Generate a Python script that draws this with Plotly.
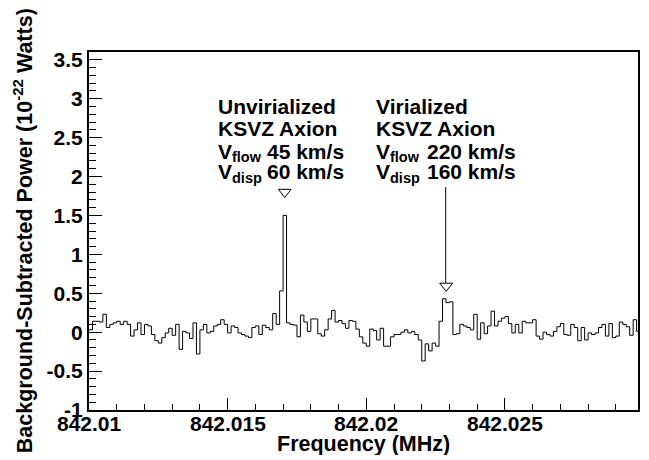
import numpy as np
import plotly.graph_objects as go

# ---------------- data ----------------
f_start = 842.01          # MHz, lower edge of first bin
bin_width = 0.000125      # MHz (125 Hz bins)

power = [
    0.03, 0.14, 0.14, 0.13, 0.23, 0.06, 0.10, 0.12, 0.14, 0.10,
    0.14, 0.10, -0.05, 0.03, 0.12, -0.03, 0.10, 0.08, -0.03, -0.11,
    -0.14, -0.07, -0.01, 0.05, -0.04, 0.10, -0.22, 0.01, -0.01, -0.08,
    0.12, -0.28,
    0.03, 0.10, -0.01, 0.01, 0.08, 0.10, 0.16, 0.10, -0.01, 0.08,
    0.06, -0.01, -0.03, -0.05, -0.07, 0.06, 0.08, -0.03, 0.09, 0.06,
    0.03, 0.24, 0.10, 0.53, 1.50,
    0.12, 0.10, 0.09, -0.06, 0.22, 0.13,
    0.01, 0.17, 0.17, -0.02, -0.05, 0.03, 0.17, 0.28, 0.13, 0.15,
    0.11, 0.05, 0.15, 0.14, 0.04, -0.06, -0.14, -0.18, 0.04, 0.02,
    -0.10, 0.05, -0.18,
    -0.18, -0.06, -0.03, -0.03, 0.00, 0.03, -0.01, 0.01, -0.03, -0.10,
    -0.37, -0.15, -0.24, -0.14, -0.18, 0.14,
    0.43, 0.38, 0.39, -0.03, -0.02, 0.10, 0.08, 0.06, 0.03, 0.23,
    -0.09, 0.12, -0.02, 0.08, 0.27, 0.08, 0.14, 0.18, 0.20, 0.11,
    -0.01, 0.10, -0.01, 0.14, 0.12,
    0.12, 0.16, -0.05, -0.09, 0.00, -0.03, -0.05, 0.01, 0.07, 0.11,
    -0.03, -0.04, 0.10, 0.06, -0.11, 0.06, -0.10, -0.01, -0.03, -0.01,
    0.06, 0.10, -0.05, 0.11, -0.07, -0.05, 0.13, 0.10, 0.07, -0.04,
    0.16, 0.01,
]

x_tickvals = [842.01, 842.015, 842.02, 842.025]
x_ticktext = ["842.01", "842.015", "842.02", "842.025"]
y_tickvals = [-1, -0.5, 0, 0.5, 1, 1.5, 2, 2.5, 3, 3.5]
y_ticktext = ["-1", "-0.5", "0", "0.5", "1", "1.5", "2", "2.5", "3", "3.5"]

# signal markers (frequency, level)
marker_freqs = [842.01706, 842.02288]
marker_levels = [1.80, 0.594]

x_range = [842.0099999, 842.0298]
y_range = [-1.0, 3.6]

# ---------------- geometry helpers (layout pixels -> paper) ----------------
W, H = 649, 460
L, R, T, B = 89, 9, 52, 50
PW, PH = W - L - R, H - T - B


def px(x):
    return (x - L) / PW


def py(y):
    return (H - B - y) / PH


# ---------------- figure ----------------
n = len(power)
edges = f_start + bin_width * np.arange(n + 1)
xs = list(edges)
ys = list(power) + [power[-1]]

fig = go.Figure()
fig.add_trace(go.Scatter(x=xs, y=ys, mode="lines", line=dict(color="black", width=1, shape="hv"),
                         hoverinfo="skip"))
fig.add_trace(go.Scatter(x=marker_freqs, y=marker_levels, mode="markers",
                         marker=dict(symbol="triangle-down-open", size=11, color="black",
                                     line=dict(color="black", width=1)),
                         hoverinfo="skip"))

FONT = "Liberation Sans, Arial, Helvetica, sans-serif"
TICK = 21
TXT = 21

fig.update_layout(
    width=W, height=H,
    margin=dict(l=L, r=R, t=T, b=B),
    paper_bgcolor="white", plot_bgcolor="white",
    showlegend=False,
    font=dict(family=FONT, size=20, color="black"),
)

axis_common = dict(showline=True, linewidth=2, linecolor="black", mirror=True,
                   ticks="inside", tickcolor="black", tickwidth=1,
                   showgrid=False, zeroline=False,
                   tickfont=dict(family=FONT, size=TICK, color="black", weight="bold"))

x_minor = [round(842.01 + 0.001 * i, 6) for i in range(0, 20)]
y_minor = [round(-1 + 0.1 * i, 3) for i in range(0, 47)]

fig.update_xaxes(range=x_range, tickmode="array", tickvals=x_tickvals, ticktext=x_ticktext,
                 ticklen=12, showticklabels=False,
                 minor=dict(tickmode="array", tickvals=x_minor, ticks="inside", ticklen=6,
                            tickcolor="black", tickwidth=1),
                 **axis_common)
fig.update_yaxes(range=y_range, tickmode="array", tickvals=y_tickvals, ticktext=y_ticktext,
                 ticklen=13,
                 minor=dict(tickmode="array", tickvals=y_minor, ticks="inside", ticklen=7,
                            tickcolor="black", tickwidth=1),
                 **axis_common)

ann = []


def text(x, y, s, size=TXT, anchor="left", h=None):
    d = dict(xref="paper", yref="paper", x=px(x), y=py(y), text="<b>" + s + "</b>",
             showarrow=False, xanchor=anchor, yanchor="middle", borderpad=0,
             font=dict(family=FONT, size=size, color="black"))
    if h is not None:
        d["height"] = h
    ann.append(d)


for x0, xv, lines in [(217, 267, ("Unvirialized", "KSVZ Axion", "45 km/s", "60 km/s")),
                      (376, 427, ("Virialized", "KSVZ Axion", "220 km/s", "160 km/s"))]:
    text(x0, 106, lines[0], h=21)
    text(x0, 128, lines[1], h=21)
    text(x0, 151, "V", h=19)
    text(x0 + 14.5, 157, "flow", size=14.5, h=16)
    text(xv, 151, lines[2], h=19)
    text(x0, 171, "V", h=19)
    text(x0 + 14.5, 177, "disp", size=14.5, h=17)
    text(xv, 171, lines[3], h=19)

# x tick labels (placed just under the frame like the original)
for tv, tt in zip(x_tickvals, x_ticktext):
    ann.append(dict(xref="x", yref="paper", x=tv, y=py(424), text="<b>" + tt + "</b>",
                    showarrow=False, xanchor="center", yanchor="middle", borderpad=0,
                    height=19, font=dict(family=FONT, size=TICK, color="black")))

# axis titles
ann.append(dict(xref="paper", yref="paper", x=px(23), y=py(231),
                text="<b>Background-Subtracted Power (10<sup>-22</sup> Watts)</b>",
                textangle=-90, showarrow=False, xanchor="center", yanchor="middle",
                font=dict(family=FONT, size=21.5, color="black")))
ann.append(dict(xref="paper", yref="paper", x=px(365), y=py(444),
                text="<b>Frequency (MHz)</b>", showarrow=False, xanchor="center",
                yanchor="middle", height=22, font=dict(family=FONT, size=21.5, color="black")))

fig.update_layout(annotations=ann)

# arrow line toward the virialized signal
fig.add_shape(type="line", xref="paper", yref="paper", x0=px(447), x1=px(447),
              y0=py(187), y1=py(283), line=dict(color="black", width=1))

fig.write_html("out.html")
